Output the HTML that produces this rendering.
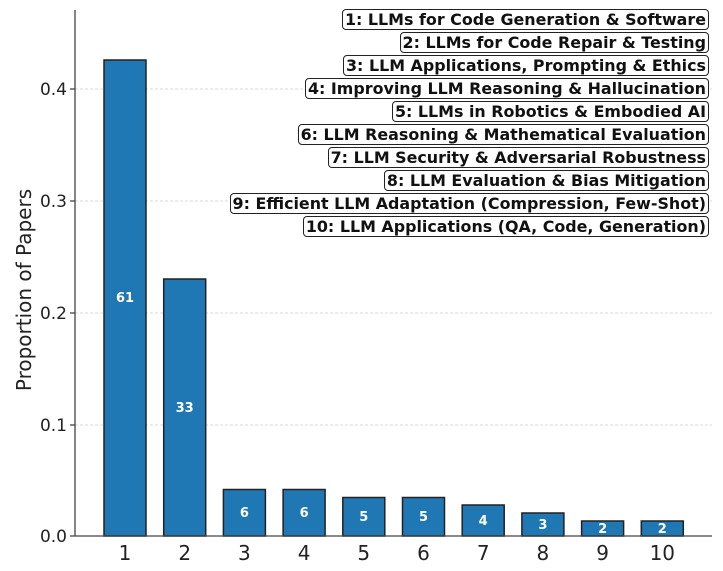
<!DOCTYPE html>
<html><head><style>
body{margin:0;width:723px;height:571px;background:#fff;overflow:hidden;position:relative;font-family:"DejaVu Sans","Liberation Sans",sans-serif}
#leg{position:absolute;right:14px;top:9px;display:flex;flex-direction:column;align-items:flex-end;gap:2px}
#leg div{border:1.3px solid #222;border-radius:4px;font-weight:bold;font-size:15.9px;line-height:19px;padding:0 2px;color:#111;background:#fff}
</style></head><body>
<svg width="723" height="571" style="position:absolute;left:0;top:0" font-family="DejaVu Sans, Liberation Sans, sans-serif">
<g stroke="#ccc" stroke-dasharray="3,2" stroke-width="0.8">
<line x1="75" x2="712" y1="425" y2="425"/><line x1="75" x2="712" y1="313" y2="313"/><line x1="75" x2="712" y1="201" y2="201"/><line x1="75" x2="712" y1="89" y2="89"/>
</g>
<g fill="#1f77b4" stroke="#222" stroke-width="1.5">
<rect x="104" y="60" width="42" height="476"/>
<rect x="163.7" y="279" width="42" height="257"/>
<rect x="223.4" y="489.5" width="42" height="46.5"/>
<rect x="283.1" y="489.5" width="42" height="46.5"/>
<rect x="342.8" y="497.5" width="42" height="38.5"/>
<rect x="402.5" y="497.5" width="42" height="38.5"/>
<rect x="462.2" y="505" width="42" height="31"/>
<rect x="521.9" y="513" width="42" height="23"/>
<rect x="581.6" y="521" width="42" height="15"/>
<rect x="641.3" y="521" width="42" height="15"/>
</g>
<g fill="#fff" font-weight="bold" font-size="13" text-anchor="middle">
<text x="125" y="302">61</text><text x="184.7" y="412">33</text>
<text x="244.4" y="517">6</text><text x="304.1" y="517">6</text>
<text x="363.8" y="521">5</text><text x="423.5" y="521">5</text>
<text x="483.2" y="525">4</text><text x="542.9" y="529">3</text>
<text x="602.6" y="533">2</text><text x="662.3" y="533">2</text>
</g>
<g stroke="#444" stroke-width="1.3">
<line x1="75" y1="10" x2="75" y2="536"/><line x1="75" y1="536" x2="712" y2="536"/>
<line x1="70" x2="75" y1="536" y2="536"/><line x1="70" x2="75" y1="425" y2="425"/><line x1="70" x2="75" y1="313" y2="313"/><line x1="70" x2="75" y1="201" y2="201"/><line x1="70" x2="75" y1="89" y2="89"/>
</g>
<g fill="#222" font-size="17" text-anchor="end">
<text x="67" y="542">0.0</text><text x="67" y="431">0.1</text><text x="67" y="319">0.2</text><text x="67" y="207">0.3</text><text x="67" y="95">0.4</text>
</g>
<g fill="#222" font-size="20" text-anchor="middle">
<text x="125" y="560">1</text><text x="184.7" y="560">2</text><text x="244.4" y="560">3</text><text x="304.1" y="560">4</text><text x="363.8" y="560">5</text><text x="423.5" y="560">6</text><text x="483.2" y="560">7</text><text x="542.9" y="560">8</text><text x="602.6" y="560">9</text><text x="662.3" y="560">10</text>
</g>
<text transform="translate(31,290) rotate(-90)" text-anchor="middle" font-size="20" fill="#222">Proportion of Papers</text>
</svg>
<div id="leg">
<div>1: LLMs for Code Generation &amp; Software</div>
<div>2: LLMs for Code Repair &amp; Testing</div>
<div>3: LLM Applications, Prompting &amp; Ethics</div>
<div>4: Improving LLM Reasoning &amp; Hallucination</div>
<div>5: LLMs in Robotics &amp; Embodied AI</div>
<div>6: LLM Reasoning &amp; Mathematical Evaluation</div>
<div>7: LLM Security &amp; Adversarial Robustness</div>
<div>8: LLM Evaluation &amp; Bias Mitigation</div>
<div>9: Efficient LLM Adaptation (Compression, Few-Shot)</div>
<div>10: LLM Applications (QA, Code, Generation)</div>
</div>
</body></html>
